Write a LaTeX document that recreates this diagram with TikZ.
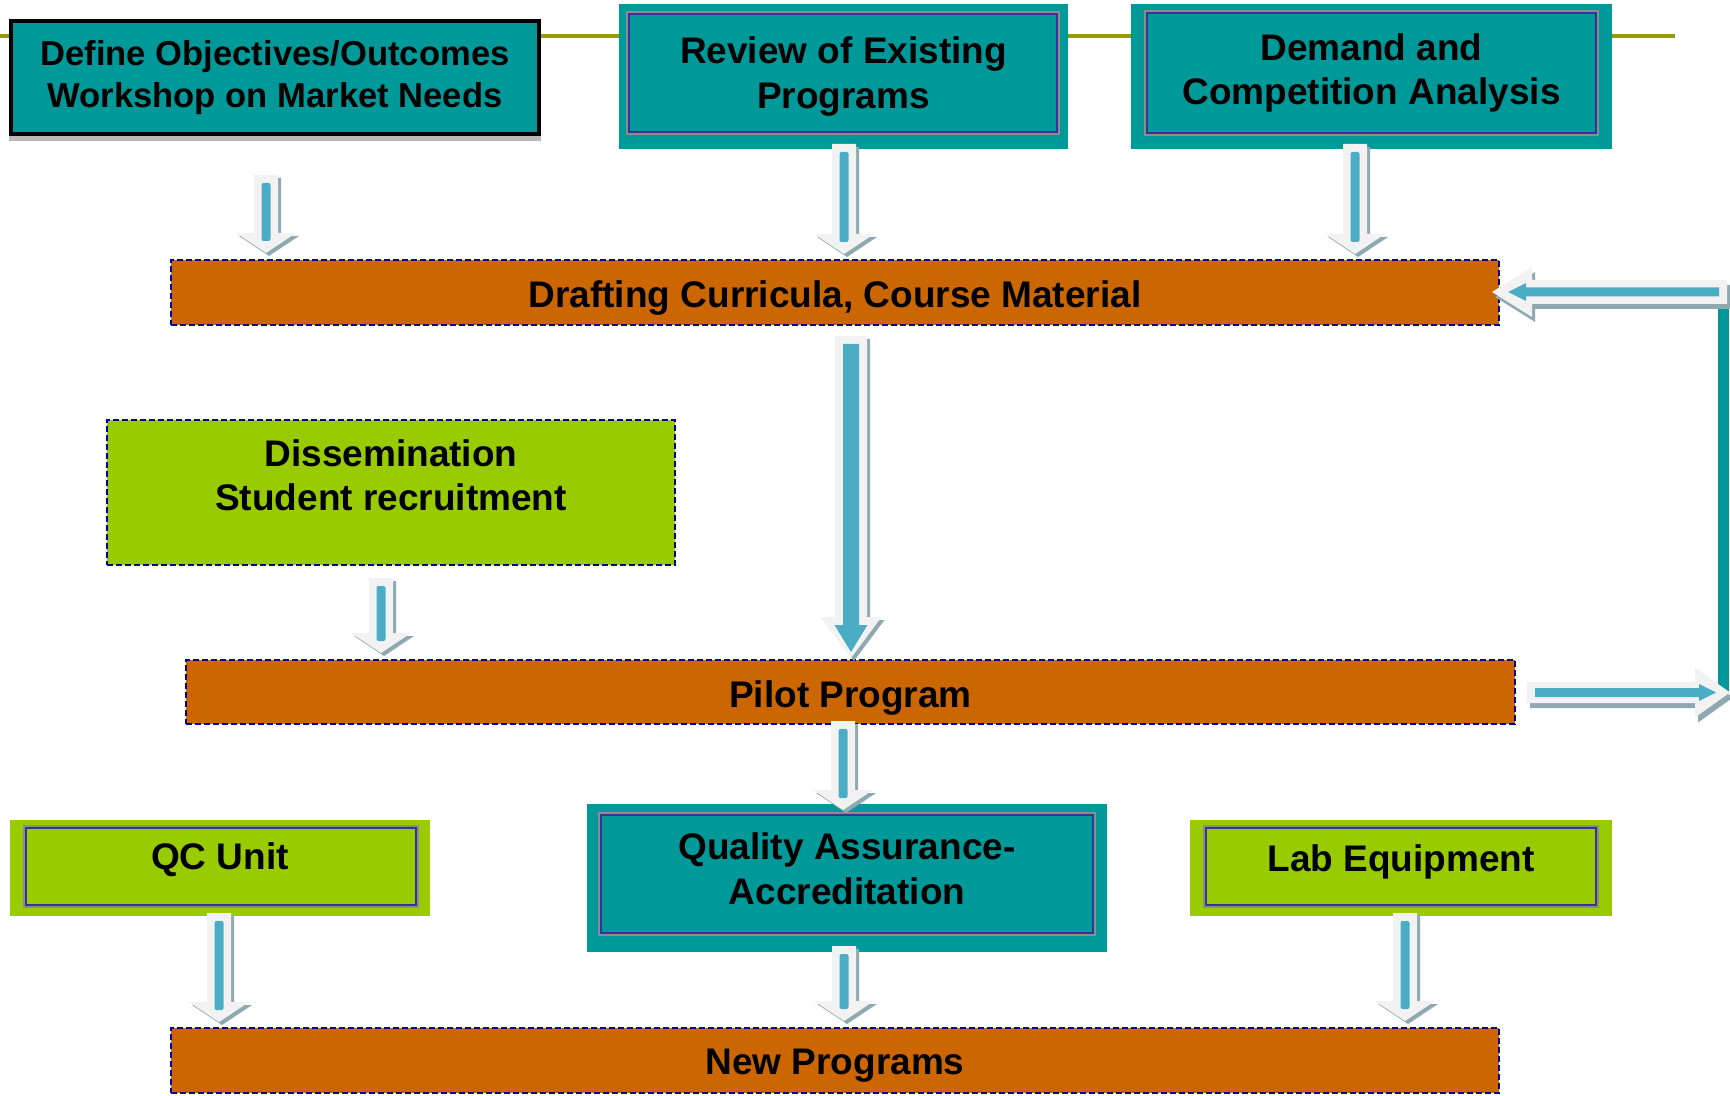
\documentclass[tikz,border=0pt]{standalone}
\usepackage{fontspec}
\setmainfont{Liberation Sans}
\usetikzlibrary{calc}
\definecolor{cTeal}{HTML}{009999}
\definecolor{cOrange}{HTML}{CC6600}
\definecolor{cGreen}{HTML}{99CC00}
\definecolor{cNavy}{HTML}{000099}
\definecolor{cOlive}{HTML}{999900}
\definecolor{cArLight}{HTML}{F2F2F2}
\definecolor{cArBlue}{HTML}{4BACC6}
\definecolor{cArShadow}{HTML}{8FA9B1}
\definecolor{cInGray}{HTML}{8C8C8C}
\definecolor{cInBlue}{HTML}{333399}
\def\arshx{1.5pt}\def\arshy{1.5pt}
% vertical block arrow: from, to, body half, head half, head len, blue half, blue head half, blue tip pullback, blue head len
\newcommand\vblock[9]{%
 \fill[cArShadow] let \p1=(#1),\p2=(#2),\n1={sign(\y2-\y1)} in
  ({\x1+#3+\arshx},{\y1-\arshy}) -- ({\x1+#3+\arshx},{\y2-\n1*#5-\arshy}) -- ({\x1+#4+\arshx},{\y2-\n1*#5-\arshy}) -- ({\x1+\arshx},{\y2-\arshy}) -- ({\x1-#4+\arshx},{\y2-\n1*#5-\arshy}) -- ({\x1-#3+\arshx},{\y2-\n1*#5-\arshy}) -- ({\x1-#3+\arshx},{\y1-\arshy}) -- cycle;
 \fill[cArLight] let \p1=(#1),\p2=(#2),\n1={sign(\y2-\y1)} in
  ({\x1+#3},{\y1}) -- ({\x1+#3},{\y2-\n1*#5}) -- ({\x1+#4},{\y2-\n1*#5}) -- ({\x1},{\y2}) -- ({\x1-#4},{\y2-\n1*#5}) -- ({\x1-#3},{\y2-\n1*#5}) -- ({\x1-#3},{\y1}) -- cycle;
 \ifdim#7>0pt
  \fill[cArBlue] let \p1=(#1),\p2=(#2),\n1={sign(\y2-\y1)} in
   ({\x1+#6},{\y1+\n1*4pt}) -- ({\x1+#6},{\y2-\n1*(#8+#9)}) -- ({\x1+#7},{\y2-\n1*(#8+#9)}) -- ({\x1},{\y2-\n1*#8}) -- ({\x1-#7},{\y2-\n1*(#8+#9)}) -- ({\x1-#6},{\y2-\n1*(#8+#9)}) -- ({\x1-#6},{\y1+\n1*4pt}) -- cycle;
 \else
  \fill[cArBlue, rounded corners=1pt] let \p1=(#1),\p2=(#2),\n1={sign(\y2-\y1)} in
   ({\x1-#6},{\y1+\n1*4pt}) rectangle ({\x1+#6},{\y2-\n1*#8});
 \fi}
% horizontal block arrow
\newcommand\hblock[9]{%
 \fill[cArShadow] let \p1=(#1),\p2=(#2),\n1={sign(\x2-\x1)} in
  ({\x1+\arshx},{\y1+#3-\arshy}) -- ({\x2-\n1*#5+\arshx},{\y1+#3-\arshy}) -- ({\x2-\n1*#5+\arshx},{\y1+#4-\arshy}) -- ({\x2+\arshx},{\y1-\arshy}) -- ({\x2-\n1*#5+\arshx},{\y1-#4-\arshy}) -- ({\x2-\n1*#5+\arshx},{\y1-#3-\arshy}) -- ({\x1+\arshx},{\y1-#3-\arshy}) -- cycle;
 \fill[cArLight] let \p1=(#1),\p2=(#2),\n1={sign(\x2-\x1)} in
  ({\x1},{\y1+#3}) -- ({\x2-\n1*#5},{\y1+#3}) -- ({\x2-\n1*#5},{\y1+#4}) -- ({\x2},{\y1}) -- ({\x2-\n1*#5},{\y1-#4}) -- ({\x2-\n1*#5},{\y1-#3}) -- ({\x1},{\y1-#3}) -- cycle;
 \fill[cArBlue] let \p1=(#1),\p2=(#2),\n1={sign(\x2-\x1)} in
  ({\x1+\n1*4pt},{\y1+#6}) -- ({\x2-\n1*(#8+#9)},{\y1+#6}) -- ({\x2-\n1*(#8+#9)},{\y1+#7}) -- ({\x2-\n1*#8},{\y1}) -- ({\x2-\n1*(#8+#9)},{\y1-#7}) -- ({\x2-\n1*(#8+#9)},{\y1-#6}) -- ({\x1+\n1*4pt},{\y1-#6}) -- cycle;}
\tikzset{
 box/.style={rectangle, inner sep=0pt, outer sep=0pt},
 tealbox/.style={box, fill=cTeal},
 greenbox/.style={box, fill=cGreen},
 dashbox/.style={box, draw=cNavy, line width=1.2pt, dash pattern=on 3pt off 1.5pt, preaction={draw=white, line width=1.2pt}},
 orangebar/.style={dashbox, fill=cOrange},
 greendash/.style={dashbox, fill=cGreen},
 innerframe/.style={draw=cInGray, line width=1.3pt},
 innerline/.style={draw=cInBlue, line width=0.6pt},
 txt/.style={inner sep=0pt, align=center, font=\bfseries\fontsize{18.5pt}{22.5pt}\selectfont},
 connline/.style={draw=cTeal, line width=5.5pt},
 topline/.style={draw=cOlive, line width=2pt}
}
\begin{document}
\begin{tikzpicture}[x=0.5pt,y=-0.5pt]
\useasboundingbox (0,0) rectangle (1730,1096);
\fill[white] (0,0) rectangle (1730,1096);
% olive line
\coordinate (lineL) at (0,36);
\coordinate (lineR) at (1675,36);
\draw[topline] (lineL) -- (lineR);
% top boxes
\fill[gray!55] (9,136) rectangle (541,141);
\node[box, fill=cTeal, draw=black, line width=2pt, minimum width=264pt, minimum height=56.5pt] (def) at (275,77.5) {};
\node[tealbox, minimum width=224.5pt, minimum height=72.5pt] (review) at (843.5,76.5) {};
\draw[innerframe] ($(review.north west)+(8,8)$) rectangle ($(review.south east)+(-9,-15)$);
\draw[innerline] ($(review.north west)+(10,10)$) rectangle ($(review.south east)+(-11,-17)$);
\node[tealbox, minimum width=240.5pt, minimum height=72.5pt] (demand) at (1371.5,76.5) {};
\draw[innerframe] ($(demand.north west)+(14,7)$) rectangle ($(demand.south east)+(-14,-14)$);
\draw[innerline] ($(demand.north west)+(16,9)$) rectangle ($(demand.south east)+(-16,-16)$);
% bars and middle boxes
\node[orangebar, minimum width=664pt, minimum height=32.5pt] (draft) at (835,292.5) {};
\node[greendash, minimum width=284pt, minimum height=72.5pt] (dissem) at (391,492.5) {};
\node[orangebar, minimum width=664.5pt, minimum height=32pt] (pilot) at (850.5,692) {};
% lower boxes
\node[greenbox, minimum width=210pt, minimum height=48pt] (qc) at (220,868) {};
\draw[innerframe] ($(qc.north west)+(14,6)$) rectangle ($(qc.south east)+(-12,-9)$);
\draw[innerline] ($(qc.north west)+(16,8)$) rectangle ($(qc.south east)+(-14,-11)$);
\node[tealbox, minimum width=260pt, minimum height=74pt] (qa) at (847,878) {};
\draw[innerframe] ($(qa.north west)+(12,9)$) rectangle ($(qa.south east)+(-12,-17)$);
\draw[innerline] ($(qa.north west)+(14,11)$) rectangle ($(qa.south east)+(-14,-19)$);
\node[greenbox, minimum width=211pt, minimum height=48pt] (lab) at (1401,868) {};
\draw[innerframe] ($(lab.north west)+(14,6)$) rectangle ($(lab.south east)+(-14,-9)$);
\draw[innerline] ($(lab.north west)+(16,8)$) rectangle ($(lab.south east)+(-16,-11)$);
\node[orangebar, minimum width=664pt, minimum height=32.5pt] (newp) at (835,1060.5) {};
% arrow end points
\coordinate (a1s) at (266,175);   \coordinate (a1e) at (266,253);
\coordinate (a2s) at (844,144);   \coordinate (a2e) at (844,254);
\coordinate (a3s) at (1355,144);  \coordinate (a3e) at (1355,254);
\coordinate (bigs) at (851,336);  \coordinate (bige) at (851,658);
\coordinate (a4s) at (381,578);   \coordinate (a4e) at (381,653);
\coordinate (a5s) at (843,721);   \coordinate (a5e) at (843,810);
\coordinate (a6s) at (219,913);   \coordinate (a6e) at (219,1022);
\coordinate (a7s) at (844,946);   \coordinate (a7e) at (844,1021);
\coordinate (a8s) at (1405,913);  \coordinate (a8e) at (1405,1021);
\coordinate (hrs) at (1527,692.5); \coordinate (hre) at (1730,692.5);
\coordinate (hls) at (1727,292);  \coordinate (hle) at (1492,292);
\coordinate (loopT) at (1723.5,296); \coordinate (loopB) at (1723.5,693);
% vertical arrows
\vblock{a1s}{a1e}{6pt}{15pt}{10pt}{2.25pt}{0pt}{6pt}{0pt}
\vblock{a2s}{a2e}{6pt}{15pt}{10pt}{2.25pt}{0pt}{6pt}{0pt}
\vblock{a3s}{a3e}{6pt}{15pt}{10pt}{2.25pt}{0pt}{6pt}{0pt}
\vblock{bigs}{bige}{8pt}{15.25pt}{20.5pt}{4pt}{8.25pt}{3pt}{13.5pt}
\vblock{a4s}{a4e}{6pt}{15pt}{10pt}{2.25pt}{0pt}{6pt}{0pt}
\vblock{a5s}{a5e}{6pt}{15pt}{10pt}{2.25pt}{0pt}{6pt}{0pt}
\vblock{a6s}{a6e}{6pt}{15pt}{10pt}{2.25pt}{0pt}{6pt}{0pt}
\vblock{a7s}{a7e}{6pt}{15pt}{10pt}{2.25pt}{0pt}{6pt}{0pt}
\vblock{a8s}{a8e}{6pt}{15pt}{10pt}{2.25pt}{0pt}{6pt}{0pt}
% feedback loop
\draw[connline] (loopT) -- (loopB);
\def\arshy{2.5pt}
\hblock{hrs}{hre}{5.25pt}{12.5pt}{17.5pt}{2.25pt}{4.25pt}{7pt}{8.5pt}
\hblock{hls}{hle}{6pt}{12.5pt}{20pt}{2.25pt}{4.5pt}{8pt}{9pt}
% texts
\node[txt, font=\bfseries\fontsize{17.3pt}{21pt}\selectfont] (defT) at (def.center) {Define Objectives/Outcomes\\Workshop on Market Needs};
\node[txt] (reviewT) at (review.center) {Review of Existing\\Programs};
\node[txt, font=\bfseries\fontsize{18.5pt}{22pt}\selectfont] (demandT) at ([yshift=2pt]demand.center) {Demand and\\Competition Analysis};
\node[txt] (draftT) at ([yshift=-3pt]draft.center) {Drafting Curricula, Course Material};
\node[txt, font=\bfseries\fontsize{18.5pt}{22pt}\selectfont] (dissemT) at ([yshift=8.5pt]dissem.center) {Dissemination\\Student recruitment};
\node[txt] (pilotT) at ([yshift=-3pt]pilot.center) {Pilot Program};
\node[txt] (qcT) at ([yshift=4.25pt]qc.center) {QC Unit};
\node[txt] (qaT) at ([yshift=4.5pt]qa.center) {Quality Assurance-\\Accreditation};
\node[txt] (labT) at ([yshift=2.8pt]lab.center) {Lab Equipment};
\node[txt] (newT) at ([yshift=-2.5pt]newp.center) {New Programs};
\end{tikzpicture}
\end{document}
